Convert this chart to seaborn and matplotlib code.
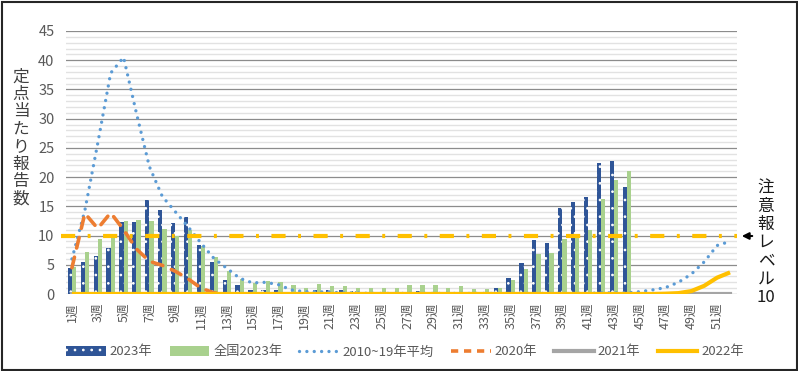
import numpy as np
import pandas as pd
import matplotlib
matplotlib.use("Agg")
import matplotlib.pyplot as plt
import matplotlib.colors as mcolors
from matplotlib.lines import Line2D
from matplotlib.patches import Patch, Rectangle
from matplotlib.ticker import MultipleLocator
import seaborn as sns

# ---------------- data ----------------
WEEKS = list(range(1, 53))

Y2023 = [4.4, 5.4, 6.5, 7.9, 12.4, 12.4, 16.0, 14.4, 12.2, 13.1,
         8.4, 5.4, 2.4, 1.5, 0.7, 0.7, 0.7, 0.4, 0.4, 0.6,
         0.7, 0.7, 0.5, 0.3, 0.3, 0.4, 0.2, 0.5, 0.3, 0.4,
         0.3, 0.3, 0.3, 1.0, 2.8, 5.3, 9.2, 8.7, 14.8, 15.8,
         16.6, 22.5, 22.8, 18.3]

NATIONAL_2023 = [4.7, 7.2, 9.4, 10.3, 12.5, 12.7, 12.5, 11.1, 10.0, 11.0,
                 8.2, 6.4, 3.9, 2.6, 1.9, 2.3, 2.1, 1.5, 1.1, 1.7,
                 1.4, 1.4, 1.1, 1.1, 1.0, 1.1, 1.5, 1.5, 1.5, 1.1,
                 1.3, 0.9, 0.8, 1.1, 2.4, 4.3, 6.8, 7.0, 9.4, 9.5,
                 11.0, 16.2, 19.5, 21.0]

AVG_2010_19 = [6.0, 14.3, 25.8, 37.8, 40.5, 30.9, 21.8, 16.7, 14.1, 11.5,
               8.7, 6.1, 4.4, 2.7, 1.9, 2.0, 1.6, 0.7, 0.4, 0.4,
               0.3, 0.2, 0.2, 0.1, 0.1, 0.1, 0.1, 0.1, 0.1, 0.1,
               0.1, 0.1, 0.1, 0.1, 0.1, 0.1, 0.1, 0.1, 0.1, 0.1,
               0.1, 0.2, 0.2, 0.2, 0.4, 0.7, 1.1, 2.0, 3.4, 5.5,
               8.3, 9.0]

Y2020 = [4.5, 13.8, 11.2, 13.9, 11.0, 7.7, 5.6, 4.9, 3.9, 2.6,
         1.0, 0.2, 0.0, 0.0, 0.0, 0.0, 0.0, 0.0, 0.0, 0.0,
         0.0, 0.0, 0.0, 0.0, 0.0, 0.0, 0.0, 0.0, 0.0, 0.0,
         0.0, 0.0, 0.0, 0.0, 0.0, 0.0, 0.0, 0.0, 0.0, 0.0,
         0.0, 0.0, 0.0, 0.0, 0.0, 0.0, 0.0, 0.0, 0.0, 0.0,
         0.0, 0.0]

Y2021 = [0.0, 0.0, 0.0, 0.0, 0.0, 0.0, 0.0, 0.0, 0.0, 0.0,
         0.0, 0.0, 0.0, 0.0, 0.0, 0.0, 0.0, 0.0, 0.0, 0.0,
         0.0, 0.0, 0.0, 0.0, 0.0, 0.0, 0.0, 0.0, 0.0, 0.0,
         0.0, 0.0, 0.0, 0.0, 0.0, 0.0, 0.0, 0.0, 0.0, 0.0,
         0.0, 0.0, 0.0, 0.0, 0.0, 0.0, 0.0, 0.0, 0.0, 0.0,
         0.0, 0.0]

Y2022 = [0.0, 0.0, 0.0, 0.0, 0.0, 0.0, 0.0, 0.0, 0.0, 0.0,
         0.0, 0.0, 0.0, 0.0, 0.0, 0.0, 0.0, 0.0, 0.0, 0.0,
         0.0, 0.0, 0.0, 0.0, 0.0, 0.0, 0.0, 0.0, 0.0, 0.0,
         0.0, 0.0, 0.0, 0.0, 0.0, 0.0, 0.0, 0.0, 0.0, 0.0,
         0.0, 0.0, 0.0, 0.0, 0.0, 0.0, 0.05, 0.15, 0.5, 1.4,
         2.8, 3.7]

ALERT_LEVEL = 10
SERIES_NAMES = ["2023年", "全国2023年", "2010~19年平均", "2020年", "2021年", "2022年"]
TICK_WEEKS = WEEKS[::2]
TICK_LABELS = [f"{w}週" for w in TICK_WEEKS]
YLABEL = "定点当たり報告数"
ALERT_TEXT = "注意報レベル"

# ---------------- style ----------------
NAVY = "#2F5597"
GREEN = "#A9D18E"
LBLUE = "#5B9BD5"
ORANGE = "#ED7D31"
GRAY = "#A5A5A5"
YELLOW = "#FFC000"
TXT = "#595959"

plt.rcParams["font.family"] = ["Noto Sans CJK JP", "DejaVu Sans"]
plt.rcParams["hatch.color"] = "white"
plt.rcParams["hatch.linewidth"] = 0.7

W, H = 798, 371
fig = plt.figure(figsize=(W / 100, H / 100), dpi=100)
ax = fig.add_axes([65.5 / W, 1 - 294 / H, 671 / W, 263 / H])

# bars
bars = pd.DataFrame({
    "week": WEEKS[:len(Y2023)] * 2,
    "value": Y2023 + NATIONAL_2023,
    "series": [SERIES_NAMES[0]] * len(Y2023) + [SERIES_NAMES[1]] * len(NATIONAL_2023),
})
sns.barplot(data=bars, x="week", y="value", hue="series",
            hue_order=SERIES_NAMES[:2], palette=[NAVY, GREEN],
            native_scale=True, width=0.66, dodge=True, saturation=1,
            errorbar=None, legend=False, ax=ax, zorder=2)


def white_hatch(p, pattern):
    p.set_edgecolor("none")
    try:
        p.set_hatchcolor("white")
    except AttributeError:
        p._hatch_color = mcolors.to_rgba("white")
    p.set_hatch(pattern)
    p.set_linewidth(0)


for p in ax.containers[0].patches:
    white_hatch(p, "..")

# lines
DOT = (0, (0.01, 2.2))
sns.lineplot(x=WEEKS, y=AVG_2010_19, color=LBLUE, lw=2.4,
             linestyle=DOT, dash_capstyle="round", ax=ax, zorder=3)
sns.lineplot(x=WEEKS, y=Y2020, color=ORANGE, lw=2.6,
             linestyle=(0, (3.0, 2.6)), dash_capstyle="round", ax=ax, zorder=4)
sns.lineplot(x=WEEKS, y=Y2021, color=GRAY, lw=3.0, ax=ax, zorder=5)
sns.lineplot(x=WEEKS, y=Y2022, color=YELLOW, lw=3.0, ax=ax, zorder=6,
             solid_capstyle="butt")

ax.axhline(ALERT_LEVEL, xmin=-0.006, xmax=1.0, clip_on=False, color=YELLOW,
           lw=3.0, linestyle=(0, (3.4, 3.0, 0.7, 3.0)), zorder=7)

# axes
ax.set_xlim(0.5, 52.5)
ax.set_ylim(0, 45)
ax.yaxis.set_major_locator(MultipleLocator(5))
ax.yaxis.set_minor_locator(MultipleLocator(1))
ax.set_axisbelow(True)
ax.grid(False)
ax.grid(which="minor", axis="y", color="#E2E2E2", lw=1.0)
ax.grid(which="major", axis="y", color="#8C8C8C", lw=0.9)
for s in ax.spines.values():
    s.set_visible(False)
ax.set_xticks(TICK_WEEKS)
ax.set_xticklabels(TICK_LABELS, rotation=90)
ax.tick_params(axis="x", length=0, pad=6, labelsize=9, labelcolor=TXT)
ax.tick_params(axis="y", which="both", length=0, pad=8, labelsize=10.5, labelcolor=TXT)
ax.set_xlabel("")
ax.set_ylabel("")

# vertical y-label
for i, ch in enumerate(YLABEL):
    fig.text(21 / W, 1 - (77 + i * 17.4) / H, ch, ha="center", va="center",
             fontsize=12, color="#404040")

# alert annotation
for i, ch in enumerate(ALERT_TEXT):
    fig.text(766 / W, 1 - (188 + i * 18.2) / H, ch, ha="center", va="center",
             fontsize=12, color="#1A1A1A")
fig.text(766 / W, 1 - 297 / H, str(ALERT_LEVEL), ha="center", va="center",
         fontsize=12, color="#1A1A1A")
fig.add_artist(matplotlib.patches.FancyArrowPatch(
    (755 / W, 1 - 236 / H), (739 / W, 1 - 236 / H), transform=fig.transFigure,
    arrowstyle="-|>", mutation_scale=10, color="black", lw=1.5))

# legend
h_bar = Patch(facecolor=NAVY, edgecolor="none", hatch="..", linewidth=0)
h_bar._hatch_color = mcolors.to_rgba("white")
handles = [
    h_bar,
    Patch(facecolor=GREEN, edgecolor="none"),
    Line2D([], [], color=LBLUE, lw=2.4, linestyle=DOT, dash_capstyle="round"),
    Line2D([], [], color=ORANGE, lw=2.6, linestyle=(0, (2.0, 1.6))),
    Line2D([], [], color=GRAY, lw=3.0),
    Line2D([], [], color=YELLOW, lw=3.0),
]
leg = fig.legend(handles, SERIES_NAMES, loc="center", ncol=6,
                 bbox_to_anchor=(405 / W, 1 - 352 / H), frameon=False,
                 fontsize=9.5, handlelength=3.0, handletextpad=0.3,
                 columnspacing=1.3, labelcolor=TXT)

# outer border
fig.add_artist(Rectangle((1.5 / W, 1.5 / H), (W - 3) / W, (H - 3) / H,
                         transform=fig.transFigure, fill=False,
                         edgecolor="#262626", lw=1.5))

fig.savefig("out.png", dpi=100)
